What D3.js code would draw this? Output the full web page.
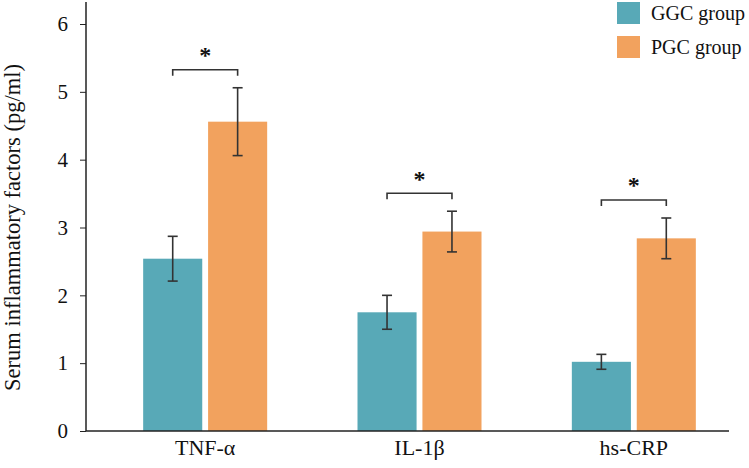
<!DOCTYPE html>
<html>
<head>
<meta charset="utf-8">
<script src="https://cdn.jsdelivr.net/npm/d3@7"></script>
<style>
  body { margin: 0; background: #fff; }
  svg { font-family: "Liberation Serif", "DejaVu Serif", serif; }
</style>
</head>
<body>
<svg id="chart" width="749" height="468"></svg>
<script>
// Serum inflammatory factors, GGC vs PGC group (mean ± error)
const categories = ["TNF-α", "IL-1β", "hs-CRP"];
const groups = ["GGC group", "PGC group"];
const ggcMean = [2.54, 1.75, 1.02];
const ggcErr  = [0.33, 0.25, 0.11];
const pgcMean = [4.56, 2.94, 2.84];
const pgcErr  = [0.50, 0.30, 0.30];
const yTicks = [0, 1, 2, 3, 4, 5, 6];
const colors = ["#58a9b7", "#f2a25e"];

const svg = d3.select("#chart");
const x0 = 86, x1 = 729, yBase = 431;

const x = d3.scaleBand().domain(categories).range([98, 741]);
const xs = d3.scaleBand().domain(groups).range([0, 124]).paddingInner(0.09);
const y = d3.scaleLinear().domain([0, 6]).range([yBase, 24]);

const rows = categories.map((c, i) => ({
  cat: c,
  vals: [
    { g: groups[0], m: ggcMean[i], e: ggcErr[i] },
    { g: groups[1], m: pgcMean[i], e: pgcErr[i] }
  ]
}));

// y axis
const yAxis = svg.append("g")
  .attr("transform", `translate(${x0},0)`)
  .call(d3.axisLeft(y).tickValues(yTicks).tickSize(6).tickPadding(12).tickFormat(d3.format("d")));
yAxis.select(".domain").remove();
yAxis.selectAll("line").attr("stroke", "#222");
yAxis.selectAll("text").attr("font-size", 21).attr("fill", "#111")
  .attr("font-family", "Liberation Serif, serif");
svg.append("line").attr("x1", x0).attr("x2", x0).attr("y1", 2).attr("y2", yBase)
  .attr("stroke", "#222").attr("stroke-width", 1.5);

svg.append("text")
  .attr("transform", `translate(20,${(yBase + 24) / 2}) rotate(-90)`)
  .attr("text-anchor", "middle")
  .attr("font-size", 22.5).attr("fill", "#111")
  .text("Serum inflammatory factors (pg/ml)");

// bars
const grp = svg.selectAll("g.cat").data(rows).join("g")
  .attr("class", "cat")
  .attr("transform", d => `translate(${x(d.cat) + x.bandwidth() / 2 - 62},0)`);

grp.selectAll("rect").data(d => d.vals).join("rect")
  .attr("x", d => xs(d.g))
  .attr("y", d => y(d.m))
  .attr("width", xs.bandwidth())
  .attr("height", d => yBase - y(d.m))
  .attr("fill", (d, i) => colors[i]);

// error bars
const eb = grp.selectAll("g.err").data(d => d.vals).join("g").attr("class", "err")
  .attr("stroke", "#333").attr("stroke-width", 1.6);
const cx = d => xs(d.g) + xs.bandwidth() / 2;
eb.append("line").attr("x1", cx).attr("x2", cx)
  .attr("y1", d => y(d.m + d.e)).attr("y2", d => y(d.m - d.e));
eb.append("line").attr("x1", d => cx(d) - 5).attr("x2", d => cx(d) + 5)
  .attr("y1", d => y(d.m + d.e)).attr("y2", d => y(d.m + d.e));
eb.append("line").attr("x1", d => cx(d) - 5).attr("x2", d => cx(d) + 5)
  .attr("y1", d => y(d.m - d.e)).attr("y2", d => y(d.m - d.e));

// significance brackets
grp.each(function(d) {
  const top = d3.max(d.vals, v => v.m + v.e);
  const by = y(top) - 18;
  const a = cx(d.vals[0]), b = cx(d.vals[1]);
  const g = d3.select(this);
  g.append("path")
    .attr("d", `M${a},${by + 6}V${by}H${b}V${by + 6}`)
    .attr("fill", "none").attr("stroke", "#333").attr("stroke-width", 1.6);
  g.append("text")
    .attr("x", (a + b) / 2)
    .attr("text-anchor", "middle")
    .attr("font-size", 24).attr("font-weight", "bold").attr("fill", "#111")
    .attr("dy", "0.35em").attr("y", by - 15)
    .text("*");
});

// x axis
svg.append("line").attr("x1", x0).attr("x2", x1).attr("y1", yBase).attr("y2", yBase)
  .attr("stroke", "#222").attr("stroke-width", 1.5);
const xAxis = svg.append("g").attr("transform", `translate(0,${yBase})`)
  .call(d3.axisBottom(x).tickSize(0).tickPadding(8));
xAxis.select(".domain").remove();
xAxis.selectAll("text").attr("font-size", 22).attr("fill", "#111")
  .attr("font-family", "Liberation Serif, serif");

// legend
const leg = svg.append("g").attr("transform", "translate(617,2)");
const li = leg.selectAll("g").data(groups).join("g")
  .attr("transform", (d, i) => `translate(0,${i * 34})`);
li.append("rect").attr("width", 23).attr("height", 22).attr("fill", (d, i) => colors[i]);
li.append("text").attr("x", 34).attr("y", 11).attr("dy", "0.35em")
  .attr("font-size", 20).attr("fill", "#111").text(d => d);
</script>
</body>
</html>
